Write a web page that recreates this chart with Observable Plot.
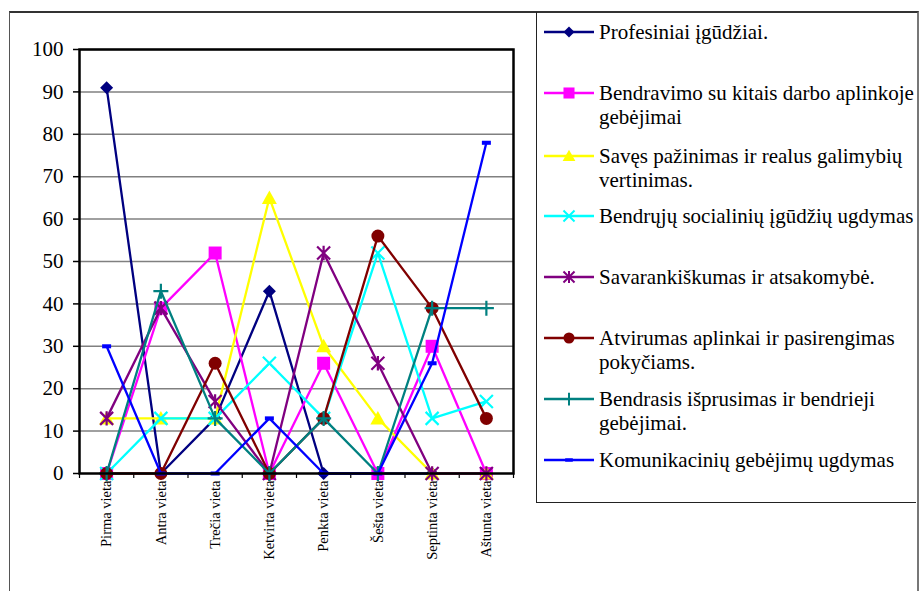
<!DOCTYPE html>
<html>
<head>
<meta charset="utf-8">
<script src="https://cdn.jsdelivr.net/npm/d3@7"></script>
<script src="https://cdn.jsdelivr.net/npm/@observablehq/plot@0.6"></script>
<style>
  html, body { margin: 0; padding: 0; background: #fff; }
  #wrap { position: relative; width: 924px; height: 591px; overflow: hidden; font-family: 'Liberation Serif', 'Times New Roman', serif; }
  #outer { position: absolute; left: 9px; top: 11px; width: 907px; height: 620px; border-top: 2px solid #333; border-left: 1px solid #555; border-right: 2px solid #777; }
  #legend { position: absolute; left: 536px; top: 12px; width: 380px; height: 491px; border: 1px solid #222; border-top: none; border-right: none; box-sizing: border-box; }
  .lg { position: absolute; left: 6px; font-size: 21px; line-height: 24px; color: #000; font-family: 'Liberation Serif', 'Times New Roman', serif; }
  .lg svg { position: absolute; left: 0; top: 0; }
  .lg span { position: absolute; left: 56px; top: 0; white-space: nowrap; }
  #chart { position: absolute; left: 0; top: 0; }
</style>
</head>
<body>
<div id="wrap">
  <div id="outer"></div>
  <div id="chart"></div>
  <div id="legend"></div>
</div>
<script>
const categories = ["Pirma vieta","Antra vieta","Trečia vieta","Ketvirta vieta","Penkta vieta","Šešta vieta","Septinta vieta","Aštunta vieta"];
const seriesNames = [
  "Profesiniai įgūdžiai.",
  "Bendravimo su kitais darbo aplinkoje gebėjimai",
  "Savęs pažinimas ir realus galimybių vertinimas.",
  "Bendrųjų socialinių įgūdžių ugdymas",
  "Savarankiškumas ir atsakomybė.",
  "Atvirumas aplinkai ir pasirengimas pokyčiams.",
  "Bendrasis išprusimas ir bendrieji gebėjimai.",
  "Komunikacinių gebėjimų ugdymas"
];
const legendLines = [
  ["Profesiniai įgūdžiai."],
  ["Bendravimo su kitais darbo aplinkoje", "gebėjimai"],
  ["Savęs pažinimas ir realus galimybių", "vertinimas."],
  ["Bendrųjų socialinių įgūdžių ugdymas"],
  ["Savarankiškumas ir atsakomybė."],
  ["Atvirumas aplinkai ir pasirengimas", "pokyčiams."],
  ["Bendrasis išprusimas ir bendrieji", "gebėjimai."],
  ["Komunikacinių gebėjimų ugdymas"]
];
const profesiniai    = [91, 0, 13, 43, 0, 0, 0, 0];
const bendravimo     = [0, 39, 52, 0, 26, 0, 30, 0];
const saves          = [13, 13, 13, 65, 30, 13, 0, 0];
const bendruju       = [0, 13, 13, 26, 13, 52, 13, 17];
const savarankiskumas= [13, 39, 17, 0, 52, 26, 0, 0];
const atvirumas      = [0, 0, 26, 0, 13, 56, 39, 13];
const bendrasis      = [0, 43, 13, 0, 13, 0, 39, 39];
const komunikaciniu  = [30, 0, 0, 13, 0, 0, 26, 78];
const seriesValues = [profesiniai, bendravimo, saves, bendruju, savarankiskumas, atvirumas, bendrasis, komunikaciniu];
const yTicks = [0,10,20,30,40,50,60,70,80,90,100];

const colors = ["#000080","#FF00FF","#FFFF00","#00FFFF","#800080","#800000","#008080","#0000FF"];
const FONT = "Liberation Serif, Times New Roman, serif";

// custom symbols
const R = s => Math.sqrt(s / Math.PI);
const symDiamond = {draw(c, s){ const h = R(s); c.moveTo(0,-h); c.lineTo(h,0); c.lineTo(0,h); c.lineTo(-h,0); c.closePath(); }};
const symSquare = {draw(c, s){ const h = R(s); c.rect(-h,-h,2*h,2*h); }};
const symTriangle = {draw(c, s){ const h = R(s); c.moveTo(0,-h); c.lineTo(h,h*0.8); c.lineTo(-h,h*0.8); c.closePath(); }};
const symTimes = {draw(c, s){ const h = R(s); c.moveTo(-h,-h); c.lineTo(h,h); c.moveTo(h,-h); c.lineTo(-h,h); }};
const symAsterisk = {draw(c, s){ const h = R(s); c.moveTo(-h,-h); c.lineTo(h,h); c.moveTo(h,-h); c.lineTo(-h,h); c.moveTo(0,-h*1.1); c.lineTo(0,h*1.1); }};
const symCircle = {draw(c, s){ const h = R(s); c.moveTo(h,0); c.arc(0,0,h,0,2*Math.PI); }};
const symPlus = {draw(c, s){ const h = R(s); c.moveTo(-h,0); c.lineTo(h,0); c.moveTo(0,-h); c.lineTo(0,h); }};
const symDash = {draw(c, s){ const h = R(s); c.rect(-h,-h*0.45,2*h,h*0.9); }};
const markers = [
  {sym: symDiamond, r: 6.5, filled: true},
  {sym: symSquare, r: 6.5, filled: true},
  {sym: symTriangle, r: 7.5, filled: true},
  {sym: symTimes, r: 6.5, filled: false},
  {sym: symAsterisk, r: 6.5, filled: false},
  {sym: symCircle, r: 6.5, filled: true},
  {sym: symPlus, r: 7.5, filled: false},
  {sym: symDash, r: 4.5, filled: true}
];

const data = [];
seriesValues.forEach((vals, si) => vals.forEach((v, i) => data.push({series: seriesNames[si], si, xi: i + 1, cat: categories[i], value: v})));

const marks = [
  Plot.ruleY(yTicks.slice(1), {y: d => d, stroke: "#808080", strokeWidth: 1.5}),
  Plot.axisY({ticks: yTicks, tickSize: 6, tickPadding: 10, fontSize: 21, fontFamily: FONT, fill: "#000", stroke: "#000", strokeWidth: 1.5, label: null}),
  Plot.axisX({ticks: d3.range(0.5, 9, 1), tickSize: 5, tickFormat: () => "", stroke: "#000", strokeWidth: 1.2, label: null}),
  Plot.axisX({ticks: d3.range(1, 9), tickSize: 0, tickPadding: 7, tickRotate: -90, tickFormat: i => categories[i - 1], fontSize: 14.5, fontFamily: FONT, fill: "#000", label: null}),
];
seriesValues.forEach((vals, si) => {
  const d = data.filter(e => e.si === si);
  marks.push(Plot.line(d, {x: "xi", y: "value", stroke: colors[si], strokeWidth: 2.3}));
  const m = markers[si];
  marks.push(Plot.dot(d, {x: "xi", y: "value", symbol: m.sym, r: m.r,
    fill: m.filled ? colors[si] : "none", stroke: m.filled ? "none" : colors[si], strokeWidth: m.filled ? 0 : 2.2}));
});
marks.push(Plot.frame({stroke: "#000", strokeWidth: 2.5}));

const chart = Plot.plot({
  width: 924, height: 591,
  marginLeft: 79, marginRight: 411, marginTop: 49, marginBottom: 118,
  style: {fontFamily: FONT, background: "transparent", overflow: "visible"},
  x: {type: "linear", domain: [0.5, 8.5]},
  y: {domain: [0, 100]},
  marks
});
document.getElementById("chart").appendChild(chart);

// legend
const legend = document.getElementById("legend");
const centers = [20, 81, 144, 204, 265, 326, 387, 448];
legendLines.forEach((lines, si) => {
  const div = document.createElement("div");
  div.className = "lg";
  div.style.top = (centers[si] - 12) + "px";
  const m = markers[si];
  const svg = d3.create("svg").attr("width", 54).attr("height", 24);
  svg.append("line").attr("x1", 1).attr("x2", 51).attr("y1", 12).attr("y2", 12).attr("stroke", colors[si]).attr("stroke-width", 2.3);
  const size = Math.PI * (m.r * 0.85) ** 2;
  svg.append("path").attr("transform", "translate(26,12)").attr("d", d3.symbol(m.sym, size)())
    .attr("fill", m.filled ? colors[si] : "none").attr("stroke", m.filled ? "none" : colors[si]).attr("stroke-width", 2);
  div.appendChild(svg.node());
  lines.forEach((t, li) => {
    const s = document.createElement("span");
    s.textContent = t;
    s.style.top = (li * 24) + "px";
    div.appendChild(s);
  });
  legend.appendChild(div);
});
</script>
</body>
</html>
